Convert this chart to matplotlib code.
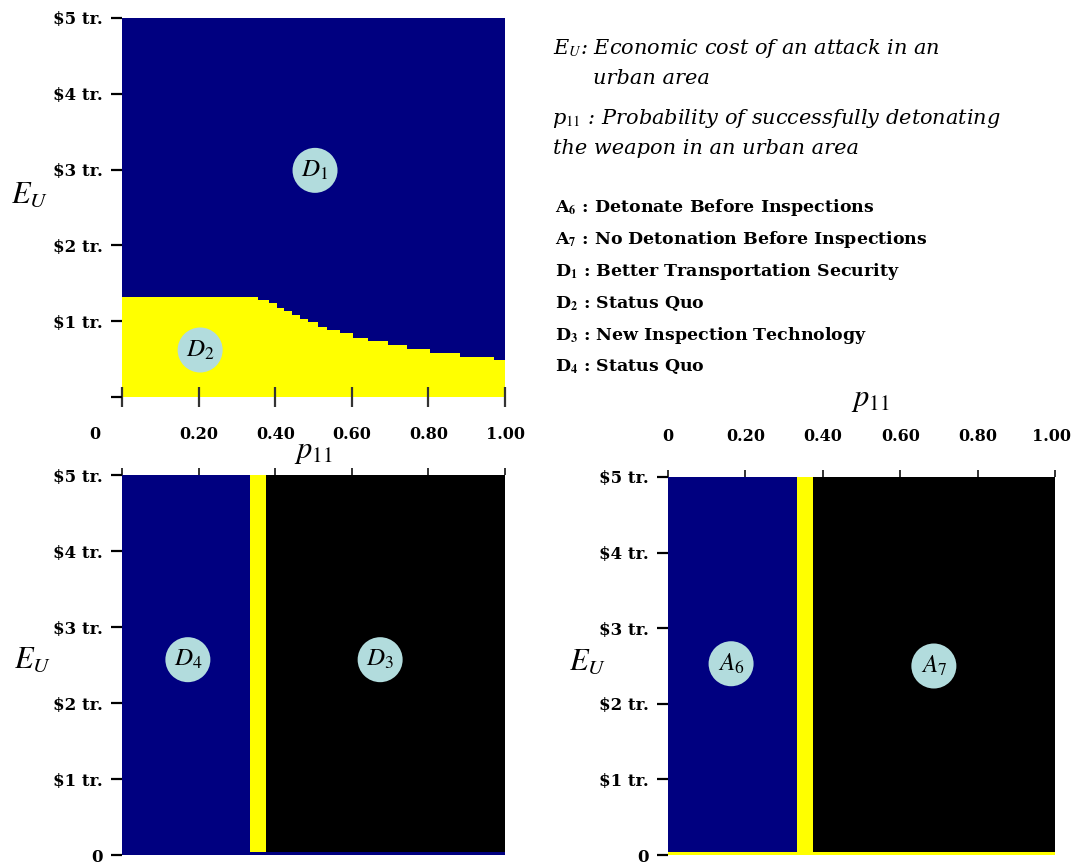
import matplotlib
matplotlib.use("Agg")
import matplotlib.pyplot as plt
from matplotlib.transforms import ScaledTranslation

plt.rcParams["font.family"] = ["Liberation Serif", "DejaVu Serif"]
plt.rcParams["mathtext.fontset"] = "stix"

NAVY = "#000080"
YELLOW = "#FFFF00"
BLACK = "#000000"
BUBBLE = "#B2DCDD"
WIDE = ["DejaVu Serif"]

# top panel: D1 above the stepped boundary, D2 below it
p_edges_top = [0.0, 0.356, 0.385, 0.404, 0.424, 0.443, 0.465, 0.486, 0.513, 0.534,
               0.569, 0.604, 0.643, 0.695, 0.743, 0.804, 0.883, 0.971, 1.0]
eu_boundary_top = [1.32, 1.28, 1.24, 1.18, 1.14, 1.08, 1.03, 0.99, 0.93, 0.88,
                   0.84, 0.78, 0.74, 0.69, 0.63, 0.58, 0.53, 0.49]

# bottom panels: vertical regions along p11
p_edges_defender = [0.0, 0.334, 0.376, 1.0]
region_colors_defender = [NAVY, YELLOW, BLACK]
p_edges_attacker = [0.0, 0.333, 0.374, 1.0]
region_colors_attacker = [NAVY, YELLOW, BLACK]
eu_max = 5.0
eu_floor_strip = 0.04

p_ticks = [0.0, 0.2, 0.4, 0.6, 0.8, 1.0]
p_tick_labels = ["0", "0.20", "0.40", "0.60", "0.80", "1.00"]
eu_ticks = [0, 1, 2, 3, 4, 5]
eu_tick_labels = ["0", r"\$1 tr.", r"\$2 tr.", r"\$3 tr.", r"\$4 tr.", r"\$5 tr."]

bubbles_top = [("D", "1", 0.504, 2.99), ("D", "2", 0.204, 0.62)]
bubbles_def = [("D", "4", 0.172, 2.57), ("D", "3", 0.674, 2.57)]
bubbles_att = [("A", "6", 0.163, 2.53), ("A", "7", 0.687, 2.50)]

legend_lines = [
    ("A", "6", "Detonate Before Inspections"),
    ("A", "7", "No Detonation Before Inspections"),
    ("D", "1", "Better Transportation Security"),
    ("D", "2", "Status Quo"),
    ("D", "3", "New Inspection Technology"),
    ("D", "4", "Status Quo"),
]

W, H = 1072, 865
fig = plt.figure(figsize=(W / 100, H / 100), dpi=100, facecolor="white")


def fx(px):
    return px / W


def fy(py):
    return 1 - py / H


def style_y(ax, show_zero_label):
    ax.set_ylim(0, eu_max)
    ax.set_yticks(eu_ticks)
    labels = list(eu_tick_labels)
    if not show_zero_label:
        labels[0] = ""
    ax.set_yticklabels(labels, fontsize=12, fontweight="bold", family=WIDE)
    ax.tick_params(axis="y", direction="out", length=8, width=1.6, pad=6)


def bubbles(ax, items):
    for letter, sub, p, e in items:
        ax.scatter([p], [e], s=1050, color=BUBBLE, zorder=5, edgecolors="none")
        ax.text(p, e, rf"${letter}_{{{sub}}}$", ha="center", va="center",
                fontsize=18, zorder=6)


def clean(ax):
    for s in ax.spines.values():
        s.set_visible(False)
    ax.set_xlim(0, 1)


# top-left panel
ax1 = fig.add_axes([fx(122), fy(397), fx(505 - 122), (397 - 18) / H])
clean(ax1)
ax1.stairs([eu_max] * (len(p_edges_top) - 1), p_edges_top, baseline=0, fill=True, color=NAVY)
ax1.stairs(eu_boundary_top, p_edges_top, baseline=0, fill=True, color=YELLOW)
style_y(ax1, False)
ax1.set_xticks(p_ticks)
ax1.set_xticklabels([])
ax1.tick_params(axis="x", direction="inout", length=15, width=1.6, color="#333333")
bubbles(ax1, bubbles_top)

# bottom-left panel
ax2 = fig.add_axes([fx(122), fy(855), fx(505 - 122), (855 - 475) / H])
clean(ax2)
for i, c in enumerate(region_colors_defender):
    ax2.stairs([eu_max], p_edges_defender[i:i + 2], baseline=0, fill=True, color=c)
ax2.stairs([eu_floor_strip], [p_edges_defender[0], p_edges_defender[-1]], baseline=0,
           fill=True, color=NAVY)
style_y(ax2, True)
ax2.xaxis.tick_top()
ax2.set_xticks(p_ticks)
ax2.set_xticklabels(p_tick_labels, fontsize=11.5, fontweight="bold", family=WIDE)
ax2.tick_params(axis="x", direction="out", length=5, width=1.4, pad=18, color="#333333")
bubbles(ax2, bubbles_def)

# bottom-right panel
ax3 = fig.add_axes([fx(668), fy(855), fx(1055 - 668), (855 - 477) / H])
clean(ax3)
for i, c in enumerate(region_colors_attacker):
    ax3.stairs([eu_max], p_edges_attacker[i:i + 2], baseline=0, fill=True, color=c)
ax3.stairs([eu_floor_strip], [p_edges_attacker[0], p_edges_attacker[-1]], baseline=0,
           fill=True, color=YELLOW)
style_y(ax3, True)
ax3.xaxis.tick_top()
ax3.set_xticks(p_ticks)
ax3.set_xticklabels(p_tick_labels, fontsize=11.5, fontweight="bold", family=WIDE)
ax3.tick_params(axis="x", direction="out", length=5, width=1.4, pad=18, color="#333333")
bubbles(ax3, bubbles_att)

# the "0" on the left panel sits well left of its tick; "1.00" on the right is nudged in
zero_lab = ax2.get_xticklabels()[0]
zero_lab.set_transform(zero_lab.get_transform() + ScaledTranslation(-0.27, 0, fig.dpi_scale_trans))
one_lab = ax3.get_xticklabels()[-1]
one_lab.set_transform(one_lab.get_transform() + ScaledTranslation(-0.04, 0, fig.dpi_scale_trans))

# axis titles
for x, y in [(30, 195), (33, 660), (588, 662)]:
    fig.text(fx(x), fy(y), r"$E_U$", fontsize=22, ha="center", va="center")
fig.text(fx(313), fy(452), r"$p_{11}$", fontsize=22, ha="center", va="center")
fig.text(fx(870), fy(400), r"$p_{11}$", fontsize=22, ha="center", va="center")

# definitions
fig.text(fx(553), fy(48), r"E$_U$: Economic cost of an attack in an", fontsize=15,
         style="italic", family=WIDE, ha="left", va="center")
fig.text(fx(593), fy(78), "urban area", fontsize=15, style="italic", family=WIDE,
         ha="left", va="center")
fig.text(fx(552), fy(119), r"p$_{11}$ : Probability of successfully detonating", fontsize=15,
         style="italic", family=WIDE, ha="left", va="center")
fig.text(fx(553), fy(149), "the weapon in an urban area", fontsize=15, style="italic",
         family=WIDE, ha="left", va="center")

for i, (letter, sub, desc) in enumerate(legend_lines):
    y = 208 + i * 31.8
    fig.text(fx(555), fy(y), rf"{letter}$_{{\mathbf{{{sub}}}}}$ : {desc}",
             fontsize=12.5, fontweight="bold", family=WIDE, ha="left", va="center")

fig.savefig("out.png", dpi=100)
